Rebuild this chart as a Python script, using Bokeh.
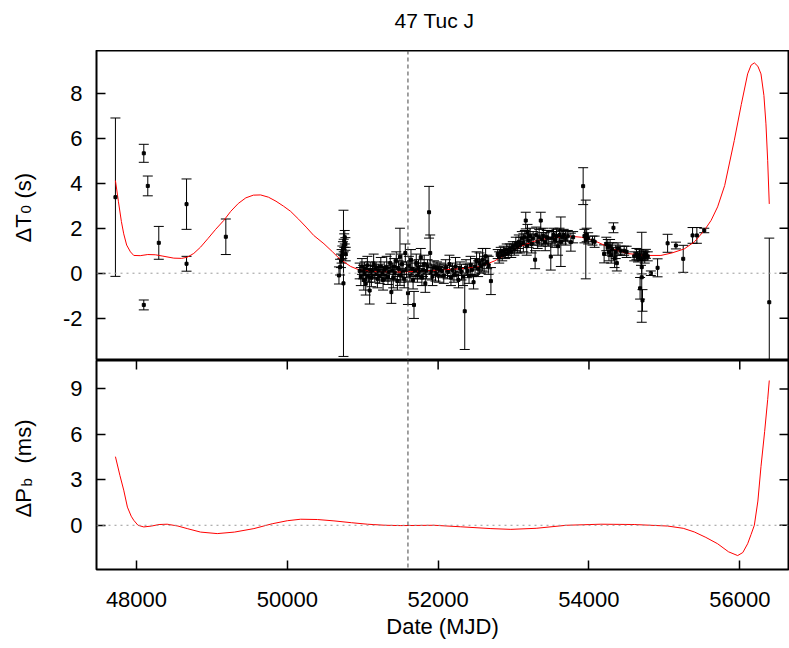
import numpy as np
from bokeh.plotting import figure
from bokeh.layouts import column, row
from bokeh.models import (Range1d, Span, Whisker, TeeHead, ColumnDataSource,
                          FixedTicker, Label)
from bokeh.embed import file_html
from bokeh.resources import INLINE

FONT = "Liberation Sans"

# ---------------- data ----------------
toa_mjd = [
    47721, 48097, 48150, 48097, 48296, 48664, 48664, 49185,
    50685, 50700, 50712, 50720, 50730, 50738, 50745, 50748, 50755, 50762, 50770, 50775,
    50960, 50975, 50990, 51005, 51015, 51025, 51040, 51050, 51062, 51075,
    51092, 51100, 51115, 51130, 51145, 51160, 51178, 51195, 51210, 51225,
    51240, 51255, 51270, 51285, 51300, 51318, 51335, 51350, 51365, 51380,
    51392, 51405, 51418, 51430, 51445, 51460, 51475, 51494, 51505, 51520,
    51535, 51550, 51565, 51580, 51600, 51612, 51625, 51640, 51655, 51668,
    51680, 51695, 51710, 51725, 51740, 51755, 51770, 51785, 51800, 51815,
    51830, 51845, 51860, 51880, 51895, 51910, 51925, 51945, 51965, 51985,
    52005, 52025,
    52050, 52075, 52100, 52125, 52150, 52170, 52190, 52210, 52230, 52250,
    52270, 52290, 52310, 52330, 52353, 52370, 52390, 52410, 52430, 52450,
    52470, 52490, 52510, 52530, 52550, 52570, 52590, 52610, 52630, 52650,
    52670, 52700,
    52790, 52810, 52830, 52850, 52870, 52890, 52910, 52930, 52950, 52970,
    52990, 53010, 53030, 53050, 53070, 53090, 53110, 53130, 53150, 53162,
    53175, 53185, 53200, 53220, 53240, 53260, 53286, 53300, 53320, 53340,
    53361, 53375, 53395, 53420, 53440, 53460,
    53494, 53510, 53530, 53550, 53570, 53590, 53610, 53627, 53645, 53665,
    53690, 53720, 53760, 53790, 53923, 53940, 53958, 53970, 53990, 54047, 54075,
    54201, 54230, 54250, 54265, 54280, 54295, 54310, 54325, 54340, 54355,
    54370, 54385, 54420, 54467, 54500,
    54600, 54630, 54650, 54670, 54678, 54690, 54700, 54700, 54710, 54725,
    54740, 54755, 54780,
    54821, 54910, 55043, 55153, 55250, 55374, 55431, 55529, 56391,
]
toa_dt0 = [
    3.38, 5.33, 3.88, -1.41, 1.35, 3.07, 0.42, 1.62,
    -0.10, 0.27, 0.55, 0.75, 0.93, 1.10, -0.45, 1.23, 1.45, 1.60, 1.30, 0.85,
    0.10, -0.15, 0.30, 0.05, -0.30, 0.20, -0.47, 0.00, 0.35, -0.10,
    -0.77, 0.15, -0.20, 0.05, 0.40, -0.05, 0.20, -0.25, 0.10, -0.10,
    0.30, 0.00, -0.30, 0.15, -0.05, 0.25, -0.15, 0.05, 0.45, -0.84,
    0.10, -0.20, 0.30, 0.00, 0.55, -0.35, 0.20, 0.73, -0.10, 0.40,
    0.05, -0.25, 0.90, 0.15, -0.89, 0.35, -0.05, 0.60, 0.20, -0.30,
    -1.41, 0.10, 0.45, -0.10, 0.25, 0.05, 0.70, -0.20, 0.15, 0.40,
    -0.45, 0.10, 0.30, 2.71, 0.90, 0.05, -0.15, 0.25, 0.00, 0.20,
    -0.05, 0.15,
    0.10, -0.10, 0.25, 0.05, 0.40, -0.20, 0.15, -0.05, 0.30, 0.00,
    -0.30, 0.20, 0.05, -0.15, -1.69, 0.25, 0.10, -0.10, 0.35, 0.15,
    -0.40, 0.30, 0.55, 0.20, 0.45, 0.30, 0.60, 0.40, 0.75, 0.50,
    0.35, -0.35,
    0.85, 0.70, 0.95, 0.80, 1.00, 0.85, 1.05, 0.90, 1.10, 0.95,
    1.20, 1.05, 1.30, 1.15, 1.40, 1.25, 1.55, 1.35, 1.60, 2.34,
    1.20, 1.82, 1.45, 1.65, 1.30, 1.55, 0.60, 1.70, 1.40, 1.60,
    2.34, 1.50, 1.65, 1.40, 1.60, 1.55,
    0.74, 1.55, 1.70, 1.50, 1.65, 1.20, 1.70, 1.40, 1.60, 1.70,
    1.55, 1.65, 1.38, 1.60, 3.87, 1.65, 1.50, 1.70, 1.55, 1.45, 1.40,
    0.86, 1.30, 1.15, 0.95, 1.20, 0.80, 1.05, 2.02, 0.65, 0.95,
    0.45, 1.10, 1.00, 1.00, 0.95,
    0.75, 0.85, 0.70, 0.80, -0.67, 0.65, -0.18, 0.27, -1.21, 0.80,
    0.70, 0.86, 0.75,
    0.00, 0.24, 1.33, 1.23, 0.64, 1.68, 1.68, 1.90, -1.29,
]
toa_err = [
    3.52, 0.40, 0.44, 0.22, 0.73, 1.12, 0.33, 0.79,
    0.38, 0.35, 0.30, 0.30, 0.28, 0.30, 3.25, 0.28, 0.30, 0.30, 0.28, 0.30,
    0.35, 0.40, 0.35, 0.30, 0.45, 0.30, 0.50, 0.35, 0.40, 0.30,
    0.60, 0.35, 0.40, 0.30, 0.45, 0.35, 0.30, 0.40, 0.30, 0.35,
    0.40, 0.30, 0.45, 0.35, 0.30, 0.50, 0.35, 0.30, 0.40, 0.50,
    0.35, 0.45, 0.35, 0.30, 0.40, 0.40, 0.35, 1.27, 0.30, 0.45,
    0.35, 0.40, 0.40, 0.35, 0.50, 0.40, 0.30, 0.45, 0.35, 0.40,
    0.60, 0.35, 0.40, 0.30, 0.35, 0.30, 0.40, 0.35, 0.30, 0.40,
    0.40, 0.35, 0.30, 1.15, 0.80, 0.35, 0.40, 0.30, 0.35, 0.30,
    0.35, 0.30,
    0.30, 0.35, 0.35, 0.30, 0.40, 0.35, 0.30, 0.35, 0.40, 0.30,
    0.35, 0.30, 0.35, 0.40, 1.70, 0.35, 0.30, 0.35, 0.40, 0.30,
    0.30, 0.35, 0.40, 0.35, 0.45, 0.30, 0.50, 0.35, 0.35, 0.30,
    0.40, 0.60,
    0.20, 0.25, 0.20, 0.25, 0.20, 0.20, 0.25, 0.20, 0.20, 0.25,
    0.20, 0.25, 0.30, 0.25, 0.30, 0.35, 0.30, 0.40, 0.30, 0.37,
    0.40, 0.35, 0.30, 0.35, 0.40, 0.30, 0.40, 0.35, 0.30, 0.35,
    0.37, 0.30, 0.35, 0.40, 0.30, 0.35,
    0.60, 0.30, 0.30, 0.35, 0.30, 0.40, 0.30, 1.10, 0.30, 0.25,
    0.30, 0.25, 0.40, 0.25, 0.82, 0.30, 1.75, 0.30, 0.25, 0.20, 0.25,
    0.40, 0.30, 0.35, 0.40, 0.30, 0.35, 0.30, 0.22, 0.40, 0.30,
    0.35, 0.25, 0.20, 0.20, 0.25,
    0.20, 0.25, 0.20, 0.25, 0.48, 0.30, 2.00, 0.30, 0.48, 0.20,
    0.25, 0.20, 0.20,
    0.10, 0.40, 0.40, 0.15, 0.60, 0.35, 0.35, 0.10, 2.85,
]

fit_t0_mjd = [
    47721, 47760, 47800, 47831, 47870, 47920, 47964, 48050, 48150, 48250,
    48350, 48495, 48600, 48673, 48760, 48850, 48950, 49050, 49159, 49250,
    49350, 49450, 49550, 49646, 49750, 49850, 49950, 50044, 50150, 50250,
    50350, 50486, 50600, 50700, 50840, 50950, 51100, 51300, 51500, 51700,
    51900, 52100, 52300, 52565, 52750, 52918, 53096, 53300, 53538, 53760,
    53900, 54069, 54200, 54335, 54500, 54733, 54954, 55100, 55264, 55400,
    55529, 55620, 55706, 55800, 55927, 56020, 56104, 56150, 56193, 56240,
    56281, 56320, 56347, 56370, 56391,
]
fit_t0 = [
    4.12, 3.20, 2.30, 1.75, 1.25, 0.95, 0.79, 0.78, 0.83, 0.82,
    0.76, 0.67, 0.66, 0.71, 0.88, 1.16, 1.55, 1.95, 2.35, 2.75,
    3.10, 3.35, 3.47, 3.48, 3.38, 3.20, 2.98, 2.75, 2.40, 2.05,
    1.68, 1.31, 0.95, 0.62, 0.30, 0.15, 0.08, 0.05, 0.05, 0.08,
    0.12, 0.16, 0.20, 0.30, 0.55, 0.86, 1.20, 1.45, 1.60, 1.64,
    1.60, 1.45, 1.25, 1.05, 0.88, 0.79, 0.79, 0.90, 1.08, 1.40,
    1.90, 2.35, 2.95, 3.90, 5.90, 7.50, 8.86, 9.25, 9.35, 9.20,
    8.86, 7.90, 6.64, 5.00, 3.08,
]

fit_pb_mjd = [
    47721, 47780, 47831, 47880, 47930, 47964, 48020, 48097, 48200, 48300,
    48407, 48550, 48673, 48850, 49071, 49300, 49557, 49800, 50000, 50177,
    50400, 50619, 50850, 51062, 51300, 51504, 51946, 52300, 52700, 52964,
    53300, 53700, 54158, 54600, 55043, 55250, 55397, 55550, 55706, 55850,
    55972, 56040, 56104, 56150, 56193, 56240, 56281, 56330, 56370, 56391,
]
fit_pb = [
    4.53, 3.30, 2.32, 1.20, 0.60, 0.33, 0.00, -0.11, -0.05, 0.05,
    0.07, -0.05, -0.22, -0.45, -0.55, -0.45, -0.22, 0.10, 0.30, 0.40,
    0.38, 0.29, 0.17, 0.07, 0.00, -0.02, 0.00, -0.10, -0.22, -0.27,
    -0.20, 0.00, 0.07, 0.05, -0.05, -0.20, -0.44, -0.80, -1.22, -1.75,
    -2.00, -1.80, -1.22, -0.60, 0.00, 1.60, 3.87, 6.20, 8.30, 9.56,
]

ref_epoch = 51600
x_ticks = [48000, 50000, 52000, 54000, 56000]
t0_ticks = [-2, 0, 2, 4, 6, 8]
pb_ticks = [0, 3, 6, 9]

X_RANGE = (47470, 56646)
T0_RANGE = (-3.88, 9.90)
PB_RANGE = (-2.92, 10.88)

# ---------------- layout sizes (pixels) ----------------
W = 789
TITLE_H = 50
LAB_W = 40
TOP_H = 310
BOT_H = 288


def style_axis(ax, ticks):
    ax.ticker = FixedTicker(ticks=ticks)
    ax.axis_line_color = None
    ax.major_tick_in = 9
    ax.major_tick_out = 0
    ax.minor_tick_in = 0
    ax.minor_tick_out = 0
    ax.major_tick_line_color = "black"
    ax.major_tick_line_width = 1.5
    ax.major_label_text_font = FONT
    ax.major_label_text_color = "black"
    ax.major_label_text_font_size = "22px"
    ax.major_label_overrides = {t: str(t) for t in ticks}


def blank_fig(width, height, xr, yr):
    f = figure(width=width, height=height, x_range=Range1d(*xr),
               y_range=Range1d(*yr), x_axis_type=None, y_axis_type=None,
               output_backend="svg", toolbar_location=None, min_border=0)
    f.grid.visible = False
    f.outline_line_color = None
    f.background_fill_color = "white"
    f.border_fill_color = "white"
    return f


xr = Range1d(*X_RANGE)

# ---------------- title strip ----------------
pt = blank_fig(W, TITLE_H, (0, W), (TITLE_H, 0))
pt.add_layout(Label(x=434, y=20, text="47 Tuc J", text_align="center",
                    text_baseline="alphabetic", text_font=FONT,
                    text_font_size="21px", text_color="black"))

# ---------------- y-label strip ----------------
pl = blank_fig(LAB_W, TOP_H + BOT_H, (0, LAB_W), (TITLE_H + TOP_H + BOT_H, TITLE_H))


def vlabel(x, y, text, size):
    pl.add_layout(Label(x=x, y=y, text=text, angle=np.pi / 2,
                        text_align="left", text_baseline="alphabetic",
                        text_font=FONT, text_font_size=size, text_color="black"))


vlabel(23, 242, "ΔT", "22px")
vlabel(25, 213, "0", "15px")
vlabel(23, 198, "(s)", "22px")
vlabel(23, 517, "ΔP", "22px")
vlabel(26, 486, "b", "15px")
vlabel(23, 463, "(ms)", "22px")

# ---------------- top panel ----------------
p1 = figure(width=W - LAB_W, height=TOP_H, x_range=xr, y_range=Range1d(*T0_RANGE),
            output_backend="svg", toolbar_location=None,
            min_border_left=96 - LAB_W, min_border_right=1, min_border_top=0,
            min_border_bottom=0)
p1.grid.visible = False
p1.xaxis.visible = False
p1.outline_line_color = "black"
p1.outline_line_width = 2
p1.background_fill_color = "white"
p1.border_fill_color = "white"
style_axis(p1.yaxis[0], t0_ticks)
p1.yaxis[0].major_label_standoff = 14
# mirrored ticks on the right edge (half of each dash is clipped by the frame)
p1.scatter([X_RANGE[1]] * len(t0_ticks), t0_ticks, marker="dash", size=18,
           line_color="black", line_width=1.5)

p1.add_layout(Span(location=0, dimension="width", line_color="#999999",
                   line_dash="2 4", line_width=1))
p1.add_layout(Span(location=ref_epoch, dimension="height", line_color="#444444",
                   line_dash="4 3", line_width=1))

lo = [v - e for v, e in zip(toa_dt0, toa_err)]
hi = [v + e for v, e in zip(toa_dt0, toa_err)]
src = ColumnDataSource(dict(x=toa_mjd, y=toa_dt0, lo=lo, hi=hi))
p1.add_layout(Whisker(source=src, base="x", lower="lo", upper="hi",
                      line_color="black", line_width=1,
                      upper_head=TeeHead(size=10, line_color="black", line_width=1),
                      lower_head=TeeHead(size=10, line_color="black", line_width=1)))
p1.line(fit_t0_mjd, fit_t0, line_color="#ff0000", line_width=1)
p1.scatter("x", "y", source=src, marker="square", size=3, color="black")

# ---------------- bottom panel ----------------
p2 = figure(width=W - LAB_W, height=BOT_H, x_range=xr, y_range=Range1d(*PB_RANGE),
            output_backend="svg", toolbar_location=None,
            min_border_left=96 - LAB_W, min_border_right=1, min_border_top=0,
            min_border_bottom=79)
p2.grid.visible = False
p2.outline_line_color = "black"
p2.outline_line_width = 2
p2.background_fill_color = "white"
p2.border_fill_color = "white"
style_axis(p2.xaxis[0], x_ticks)
p2.xaxis[0].major_label_standoff = 22
p2.xaxis[0].axis_label = "Date (MJD)"
p2.xaxis[0].axis_label_text_font = FONT
p2.xaxis[0].axis_label_text_font_size = "22px"
p2.xaxis[0].axis_label_text_font_style = "normal"
p2.xaxis[0].axis_label_text_color = "black"
p2.xaxis[0].axis_label_standoff = 4
style_axis(p2.yaxis[0], pb_ticks)
p2.yaxis[0].major_label_standoff = 14
# mirrored ticks: right edge and top edge
p2.scatter([X_RANGE[1]] * len(pb_ticks), pb_ticks, marker="dash", size=18,
           line_color="black", line_width=1.5)
p2.scatter(x_ticks, [PB_RANGE[1]] * len(x_ticks), marker="dash", size=18,
           angle=np.pi / 2, line_color="black", line_width=1.5)

p2.add_layout(Span(location=0, dimension="width", line_color="#999999",
                   line_dash="2 4", line_width=1))
p2.add_layout(Span(location=ref_epoch, dimension="height", line_color="#444444",
                   line_dash="4 3", line_width=1))
p2.line(fit_pb_mjd, fit_pb, line_color="#ff0000", line_width=1)

layout = column(pt, row(pl, column(p1, p2, spacing=0), spacing=0), spacing=0)
open("out.html", "w").write(file_html(layout, INLINE))
